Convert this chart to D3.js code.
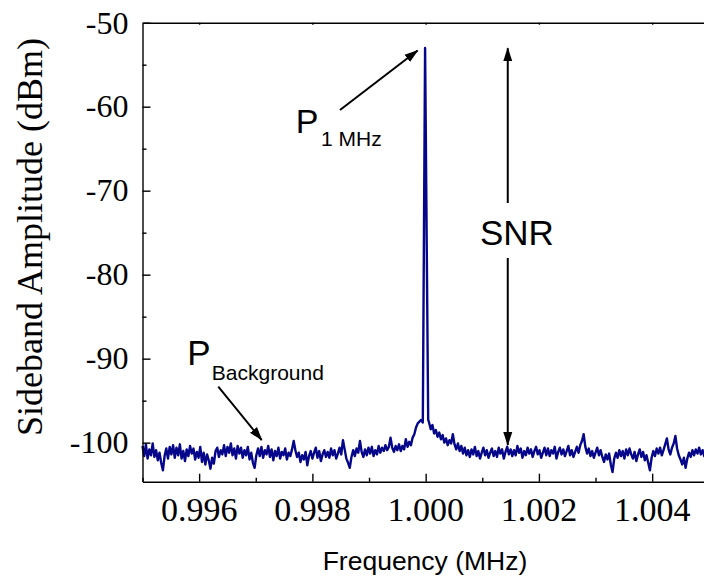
<!DOCTYPE html>
<html>
<head>
<meta charset="utf-8">
<script src="https://cdn.jsdelivr.net/npm/d3@7"></script>
<style>
  html, body { margin: 0; padding: 0; background: #fff; overflow: hidden; }
  svg { display: block; }
  .serif { font-family: 'Liberation Serif', 'Times New Roman', Times, serif; }
  .sans { font-family: 'Liberation Sans', Arial, Helvetica, sans-serif; }
</style>
</head>
<body>
<svg id="chart" width="704" height="579"></svg>
<script>
// Sideband spectrum around the 1 MHz line (amplitudes in dBm)

// noise floor below the carrier: first point at noiseLeftStart, one point per freqStep
const noiseLeftStart = 0.995;
const noiseLeft = [
  -100.4, -101.6, -100.2, -101.9, -100.8, -101.5, -100.1, -101.7, -100.9, -102.1,
  -101.2, -102.4, -103.3, -101.6, -100.7, -101.9, -100.5, -101.4, -100.3, -101.8,
  -100.6, -101.5, -100.2, -101.9, -101.0, -102.2, -100.8, -101.6, -100.4, -101.3,
  -100.7, -102.0, -101.1, -101.8, -100.5, -102.3, -101.2, -102.6, -101.4, -102.1,
  -103.1, -101.8, -102.5, -101.0, -100.6, -101.7, -100.9, -101.4, -100.3, -101.6,
  -100.5, -101.2, -100.1, -101.5, -100.7, -101.9, -100.4, -101.3, -100.6, -101.8,
  -100.9, -101.5, -100.5, -102.0, -101.2, -102.4, -103.0, -101.5, -100.7, -101.6,
  -100.5, -101.8, -100.9, -101.4, -100.4, -101.7, -100.8, -102.1, -101.0, -101.6,
  -100.6, -101.9, -101.1, -101.5, -100.7, -102.0, -101.2, -101.6, -100.8, -99.8,
  -100.9, -101.7, -101.2, -102.3, -101.5, -102.0, -101.1, -102.7, -101.6, -101.0,
  -101.9, -101.2, -100.6, -101.8, -101.0, -102.2, -101.4, -100.9, -101.7, -101.1,
  -101.8, -100.7, -101.5, -100.9, -101.9, -101.3, -100.6, -101.4, -99.7, -100.8,
  -101.9, -102.4, -103.0, -101.7, -100.9, -101.6, -100.7, -101.2, -99.8, -101.1,
  -101.7, -100.8, -101.5, -100.6, -101.3, -100.5, -101.6, -100.9, -101.4, -100.4,
  -101.2, -100.6, -101.0, -100.3, -100.9, -100.5, -99.4, -100.6, -101.1, -100.4,
  -100.9, -100.2, -101.0, -100.4, -100.8, -99.6, -100.5, -99.9, -100.3, -99.4,
  -99.0, -98.2, -97.7, -97.5, -97.3
];

// carrier line itself: [frequency (MHz), amplitude (dBm)]
const carrier = [
  [0.99995, -97.6],
  [0.99999, -53.0],
  [1.000045, -97.3]
];

// noise floor above the carrier
const noiseRightStart = 1.00006;
const noiseRight = [
  -97.6, -98.4, -97.9, -98.9, -98.5, -99.3, -98.8, -99.6, -99.1, -100.0,
  -99.5, -100.3, -99.7, -100.1, -99.0, -100.2, -100.8, -100.1, -101.0, -100.4,
  -101.3, -100.6, -101.5, -100.9, -101.7, -100.8, -101.4, -100.5, -101.6, -101.0,
  -101.9, -101.2, -100.6, -101.5, -100.9, -101.8, -101.2, -100.7, -101.6, -101.0,
  -101.7, -100.6, -101.3, -100.8, -101.9, -101.1, -100.5, -101.4, -100.8, -101.6,
  -100.9, -101.5, -100.4, -101.2, -100.7, -101.8, -101.0, -101.5, -100.6, -101.3,
  -100.8, -101.7, -101.0, -100.5, -101.4, -100.9, -101.8, -101.2, -100.6, -101.5,
  -100.7, -101.6, -100.9, -101.3, -100.5, -101.9, -101.1, -100.6, -101.4, -100.8,
  -101.6, -101.0, -100.4, -101.5, -100.9, -101.7, -101.1, -100.5, -101.2, -100.3,
  -99.8, -99.0, -100.5, -101.3, -100.7, -101.6, -101.0, -101.8, -101.2, -100.6,
  -101.5, -100.9, -101.7, -102.3, -101.4, -102.0, -101.3, -102.6, -103.5, -101.9,
  -101.2, -101.8, -100.9, -101.6, -101.0, -101.9, -100.8, -101.5, -100.7, -101.4,
  -101.9, -101.1, -102.2, -101.4, -100.8, -101.7, -101.1, -102.1, -101.5, -102.4,
  -103.3, -101.8, -101.0, -101.6, -100.7, -101.3, -100.6, -101.5, -100.9, -100.2,
  -99.5, -100.8, -101.4, -100.6, -100.1, -99.2, -100.7, -101.5, -102.0, -102.6,
  -101.8, -103.0, -101.9, -101.2, -101.7, -100.9, -101.5, -100.8, -101.3, -100.6,
  -101.4, -100.9, -101.6, -101.0, -100.7
];
const freqStep = 0.00003;

// axis ticks
const xMajorTicks = [0.996, 0.998, 1.000, 1.002, 1.004];
const xMinorTicks = [0.995, 0.997, 0.999, 1.001, 1.003, 1.005];
const yMajorTicks = [-50, -60, -70, -80, -90, -100];
const yMinorTicks = [-55, -65, -75, -85, -95];
const xDomain = [0.995, 1.005];
const yDomain = [-104.65, -50];

// assemble the trace
const trace = [];
noiseLeft.forEach((v, i) => trace.push([noiseLeftStart + i * freqStep, v]));
carrier.forEach(p => trace.push(p));
noiseRight.forEach((v, i) => trace.push([noiseRightStart + i * freqStep, v]));

const svg = d3.select("#chart");
const plot = { left: 142.5, top: 22.7, right: 708.8, bottom: 481.7 };

const x = d3.scaleLinear().domain(xDomain).range([plot.left, plot.right]);
const y = d3.scaleLinear().domain(yDomain).range([plot.bottom, plot.top]);

// arrowhead marker
const defs = svg.append("defs");
defs.append("marker")
  .attr("id", "head")
  .attr("markerUnits", "userSpaceOnUse")
  .attr("markerWidth", 14).attr("markerHeight", 12)
  .attr("refX", 13).attr("refY", 5)
  .attr("orient", "auto-start-reverse")
  .attr("viewBox", "0 0 14 10")
  .append("path")
  .attr("d", "M0,0.5 L14,5 L0,9.5 Z")
  .attr("fill", "#000");

// trace
svg.append("path")
  .datum(trace)
  .attr("fill", "none")
  .attr("stroke", "#06068a")
  .attr("stroke-width", 2.4)
  .attr("stroke-linejoin", "round")
  .attr("d", d3.line().x(d => x(d[0])).y(d => y(d[1])));

// bottom axis, ticks pointing into the plot (labels drawn separately)
svg.append("g")
  .attr("transform", `translate(0,${plot.bottom})`)
  .call(d3.axisBottom(x).tickValues(xMajorTicks).tickFormat("")
    .tickSizeInner(-8).tickSizeOuter(0));
svg.append("g")
  .attr("transform", `translate(0,${plot.bottom})`)
  .call(d3.axisBottom(x).tickValues(xMinorTicks).tickFormat("")
    .tickSizeInner(-4).tickSizeOuter(0))
  .call(g => g.select(".domain").remove());

// left axis, ticks pointing into the plot
svg.append("g")
  .attr("transform", `translate(${plot.left},0)`)
  .call(d3.axisLeft(y).tickValues(yMajorTicks).tickFormat("")
    .tickSizeInner(-8).tickSizeOuter(0));
svg.append("g")
  .attr("transform", `translate(${plot.left},0)`)
  .call(d3.axisLeft(y).tickValues(yMinorTicks).tickFormat("")
    .tickSizeInner(-4).tickSizeOuter(0))
  .call(g => g.select(".domain").remove());

// top frame with small tick marks
svg.append("g")
  .attr("transform", `translate(0,${plot.top})`)
  .call(d3.axisTop(x).tickValues(xMajorTicks).tickFormat("")
    .tickSizeInner(-2).tickSizeOuter(0));

svg.selectAll(".domain").attr("stroke", "#000").attr("stroke-width", 1.4);
svg.selectAll(".tick line").attr("stroke", "#000").attr("stroke-width", 1.4);

// tick labels
const fmtX = d3.format(".3f");
svg.append("g").selectAll("text")
  .data(xMajorTicks).join("text")
  .attr("class", "serif")
  .attr("x", d => x(d)).attr("y", 520.7)
  .attr("text-anchor", "middle")
  .attr("font-size", 34).attr("fill", "#000")
  .text(d => fmtX(d));

svg.append("g").selectAll("text")
  .data(yMajorTicks).join("text")
  .attr("class", "serif")
  .attr("x", 128.5).attr("y", d => y(d) + 10.8)
  .attr("text-anchor", "end")
  .attr("font-size", 32).attr("fill", "#000")
  .text(d => String(d));

// axis titles
svg.append("text")
  .attr("class", "serif")
  .attr("transform", "translate(42,237) rotate(-90)")
  .attr("text-anchor", "middle")
  .attr("font-size", 36)
  .text("Sideband Amplitude (dBm)");

svg.append("text")
  .attr("class", "sans")
  .attr("x", 425).attr("y", 570)
  .attr("text-anchor", "middle")
  .attr("font-size", 26.5)
  .text("Frequency (MHz)");

// annotations
const peakPoint = carrier[1];
const snrFreq = 1.00145;

const p1 = svg.append("text").attr("class", "sans").attr("fill", "#000");
p1.append("tspan").attr("x", 295.7).attr("y", 132.7).attr("font-size", 34).text("P");
p1.append("tspan").attr("x", 321).attr("y", 146).attr("font-size", 21).text("1 MHz");

svg.append("line")
  .attr("x1", 340).attr("y1", 110)
  .attr("x2", x(peakPoint[0]) - 7.5).attr("y2", 50.5)
  .attr("stroke", "#000").attr("stroke-width", 2)
  .attr("marker-end", "url(#head)");

const pb = svg.append("text").attr("class", "sans").attr("fill", "#000");
pb.append("tspan").attr("x", 187.3).attr("y", 365).attr("font-size", 35).text("P");
pb.append("tspan").attr("x", 211.8).attr("y", 380).attr("font-size", 21).text("Background");

svg.append("line")
  .attr("x1", 218.3).attr("y1", 386.7)
  .attr("x2", 261.7).attr("y2", 440)
  .attr("stroke", "#000").attr("stroke-width", 2)
  .attr("marker-end", "url(#head)");

// SNR double arrow between the carrier level and the noise floor
const snrX = x(snrFreq);
svg.append("line")
  .attr("x1", snrX).attr("y1", 203)
  .attr("x2", snrX).attr("y2", y(peakPoint[1]) + 0.3)
  .attr("stroke", "#000").attr("stroke-width", 2)
  .attr("marker-end", "url(#head)");
svg.append("line")
  .attr("x1", snrX).attr("y1", 258)
  .attr("x2", snrX).attr("y2", 445)
  .attr("stroke", "#000").attr("stroke-width", 2)
  .attr("marker-end", "url(#head)");
svg.append("text")
  .attr("class", "sans")
  .attr("x", 480).attr("y", 245)
  .attr("font-size", 35)
  .text("SNR");
</script>
</body>
</html>
